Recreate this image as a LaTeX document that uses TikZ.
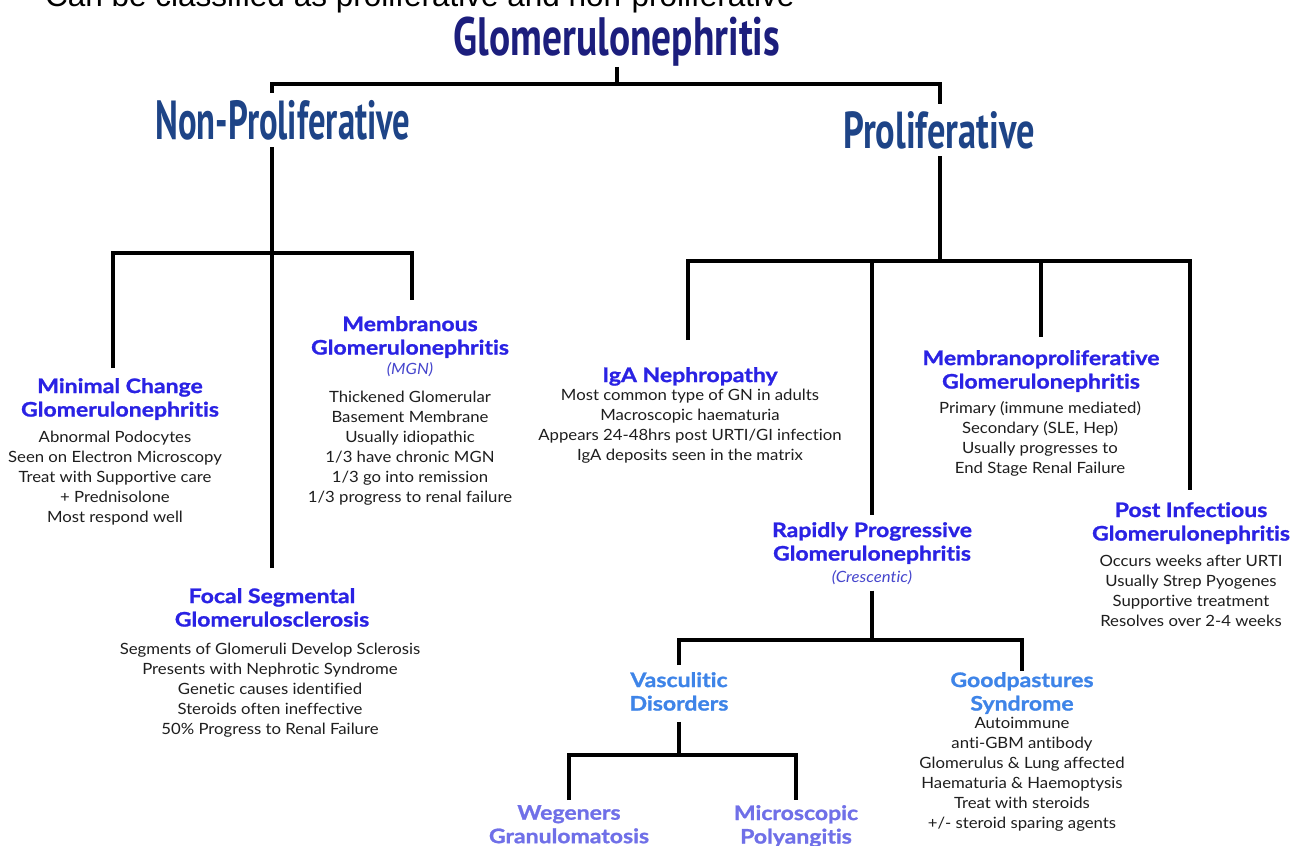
\documentclass[tikz,border=0pt]{standalone}
\usepackage{fontspec}
\setmainfont{Lato}
\newfontfamily\titlefont[FakeStretch=0.73]{PT Sans}
\newfontfamily\npfont[FakeStretch=0.63]{PT Sans}
\newfontfamily\prfont[FakeStretch=0.70]{PT Sans}
\newfontfamily\headfont[FakeStretch=1.15,FakeBold=1.2,Ligatures={NoCommon}]{Lato}
\newfontfamily\bodyfont[FakeStretch=1.08,Ligatures={NoCommon}]{Lato}
\newfontfamily\arialfont{Liberation Sans}
\usetikzlibrary{backgrounds}
\definecolor{titleblue}{RGB}{28,30,125}
\definecolor{catblue}{RGB}{30,68,135}
\definecolor{headblue}{RGB}{42,34,228}
\definecolor{italblue}{RGB}{70,70,205}
\definecolor{skyblue}{RGB}{62,132,232}
\definecolor{lavblue}{RGB}{112,112,232}
\definecolor{bodygray}{RGB}{30,30,30}
\tikzset{
  conn/.style={line width=3.2pt, black, line join=miter},
  headtext/.style={anchor=north, inner sep=0pt, align=center, text=headblue,
    font=\headfont\bfseries\fontsize{20}{23.5}\selectfont},
  bodytext/.style={anchor=north, inner sep=0pt, align=center, text=bodygray,
    font=\bodyfont\fontsize{15.5}{20}\selectfont},
  italtext/.style={anchor=north, inner sep=0pt, align=center, text=italblue,
    font=\bodyfont\itshape\fontsize{15.5}{20}\selectfont},
  cattext/.style={inner xsep=2pt, inner ysep=7pt, fill=white, text=catblue},
}
\begin{document}
\begin{tikzpicture}[x=1pt,y=-1pt]
\useasboundingbox (0,0) rectangle (1294,846);

% top cut text
\node[anchor=base west, inner sep=0pt, font=\arialfont\fontsize{31.5}{33}\selectfont] (intro) at (45,6) {Can be classified as proliferative and non-proliferative};

% title
\node[anchor=north, inner sep=0pt, text=titleblue, font=\titlefont\bfseries\fontsize{54}{56}\selectfont] (gn) at (617,17) {Glomerulonephritis};

% categories
\node[cattext, font=\npfont\bfseries\fontsize{55}{57}\selectfont] (np) at (283,120) {Non-Proliferative};
\node[cattext, font=\prfont\bfseries\fontsize{52}{54}\selectfont] (pr) at (939,130) {Proliferative};

% non-proliferative children
\node[headtext] (mcg) at (120,378) {Minimal Change\\Glomerulonephritis};
\node[bodytext] (mcgb) at (115,431) {Abnormal Podocytes\\Seen on Electron Microscopy\\Treat with Supportive care\\+ Prednisolone\\Most respond well};

\node[headtext] (mgn) at (410,316) {Membranous\\Glomerulonephritis};
\node[italtext] (mgni) at (410,362) {(MGN)};
\node[bodytext] (mgnb) at (410,391) {Thickened Glomerular\\Basement Membrane\\Usually idiopathic\\1/3 have chronic MGN\\1/3 go into remission\\1/3 progress to renal failure};

\node[headtext] (fsgs) at (272,588) {Focal Segmental\\Glomerulosclerosis};
\node[bodytext] (fsgsb) at (270,643) {Segments of Glomeruli Develop Sclerosis\\Presents with Nephrotic Syndrome\\Genetic causes identified\\Steroids often ineffective\\50\% Progress to Renal Failure};

% proliferative children
\node[headtext] (iga) at (690,367) {IgA Nephropathy};
\node[bodytext] (igab) at (690,389) {Most common type of GN in adults\\Macroscopic haematuria\\Appears 24-48hrs post URTI/GI infection\\IgA deposits seen in the matrix};

\node[headtext] (mpg) at (1041,350) {Membranoproliferative\\Glomerulonephritis};
\node[bodytext] (mpgb) at (1040,401) {Primary (immune mediated)\\Secondary (SLE, Hep)\\Usually progresses to\\End Stage Renal Failure};

\node[headtext] (pig) at (1191,502) {Post Infectious\\Glomerulonephritis};
\node[bodytext] (pigb) at (1191,555) {Occurs weeks after URTI\\Usually Strep Pyogenes\\Supportive treatment\\Resolves over 2-4 weeks};

\node[headtext] (rpg) at (872,522) {Rapidly Progressive\\Glomerulonephritis};
\node[italtext] (cres) at (872,570) {(Crescentic)};

\node[headtext, text=skyblue] (vas) at (679,672) {Vasculitic\\Disorders};
\node[headtext, text=skyblue] (gps) at (1022,672) {Goodpastures\\Syndrome};
\node[bodytext] (gpsb) at (1022,717) {Autoimmune\\anti-GBM antibody\\Glomerulus \& Lung affected\\Haematuria \& Haemoptysis\\Treat with steroids\\+/- steroid sparing agents};

\node[headtext, text=lavblue] (weg) at (569,805) {Wegeners\\Granulomatosis};
\node[headtext, text=lavblue] (mic) at (796,805) {Microscopic\\Polyangitis};

% junctions
\coordinate (j0) at (617,84);
\coordinate (jL) at (272,253);
\coordinate (jR) at (940,261);
\coordinate (jRP) at (cres.south |- 0,640);
\coordinate (jV) at (vas.south |- 0,755);

\begin{scope}[on background layer]
\fill[white] (0,0) rectangle (1294,846);
\draw[conn] (gn.south) -- (j0);
\draw[conn] ([yshift=20]fsgs.north) |- (j0) -| (jR);
\draw[conn] ([xshift=-7,yshift=10]mcg.north) |- (jL) -| ([xshift=2,yshift=16]mgn.north);
\draw[conn] ([xshift=-2,yshift=27]iga.north) |- (jR) -| ([xshift=-1,yshift=12]pig.north);
\draw[conn] (jR -| rpg.north) -- ([yshift=7]rpg.north);
\draw[conn] (jR -| mpg.north) -- ([yshift=13]mpg.north);
\draw[conn] ([yshift=-6]cres.south) -- (jRP);
\draw[conn] ([yshift=7]vas.north) |- (jRP) -| ([yshift=1]gps.north);
\draw[conn] ([yshift=-11]vas.south) -- (jV);
\draw[conn] ([yshift=5]weg.north) |- (jV) -| ([yshift=5]mic.north);
\end{scope}
\end{tikzpicture}
\end{document}
